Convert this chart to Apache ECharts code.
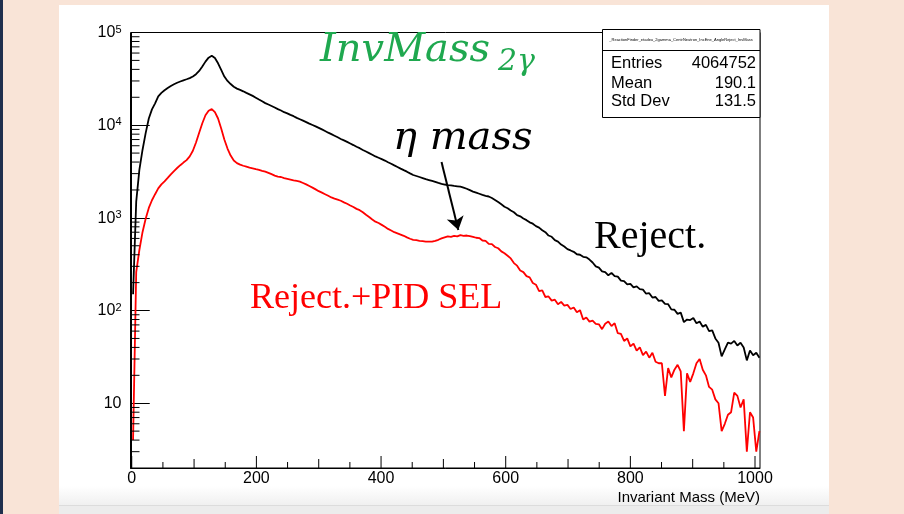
<!DOCTYPE html>
<html><head><meta charset="utf-8">
<script src="https://cdn.jsdelivr.net/npm/echarts@6/dist/echarts.min.js"></script>
<style>html,body{margin:0;padding:0;background:#F9E4D7;}#c{width:904px;height:514px;}</style>
</head><body><div id="c"></div>
<script>
// ---- data (200 bins of 5.05 MeV starting at -0.4 MeV; values drawn at bin centres) ----
const binWidth = 5.05;
const firstBinLow = -0.4;
const xMin = -2, xMax = 1008;
const rejectCounts = [
 150,1500,3300,5400,8200,11800,14800,17200,20500,22300,
 23800,25200,26500,27600,28700,29600,30500,31300,32200,33500,
 35500,38500,43000,48500,53500,56000,53000,46500,39500,33500,
 30000,27800,26000,24800,24000,23200,22300,21500,20700,19800,
 18900,18100,17300,16700,16100,15500,14900,14400,13800,13400,
 12900,12500,12000,11600,11200,10800,10400,10050,9700,9350,
 9000,8650,8300,8000,7700,7400,7100,6850,6600,6350,
 6100,5850,5650,5400,5200,5000,4800,4600,4450,4300,
 4150,3980,3830,3680,3540,3400,3270,3150,3020,2900,
 2830,2760,2690,2620,2560,2500,2440,2380,2330,2290,
 2260,2240,2210,2190,2170,2120,2060,1990,1920,1870,
 1820,1770,1730,1700,1640,1560,1480,1400,1320,1270,
 1200,1150,1070,1040,985,945,895,865,815,785,
 735,700,645,625,575,555,515,490,460,445,
 430,405,400,380,375,355,330,300,290,265,
 260,240,255,235,232,210,208,192,194,178,
 182,170,168,152,154,138,140,127,129,118,
 117,103,102,92,95,75,80,79,83,73,
 76,67,70,60,61,50,45,32,38,45,
 44,47,42,45,40,29,37,33,35,31
];
const pidSelCounts = [
 4,260,450,700,980,1280,1550,1800,2080,2300,
 2480,2700,2950,3200,3450,3700,3950,4200,4600,5300,
 6500,8300,10500,12800,14300,14900,13800,11800,9200,7000,
 5600,4700,4150,3900,3750,3650,3570,3480,3420,3350,
 3300,3220,3150,3060,2960,2860,2780,2760,2690,2640,
 2590,2540,2500,2460,2380,2300,2210,2120,2030,1940,
 1870,1800,1730,1660,1610,1570,1530,1470,1420,1360,
 1310,1250,1210,1150,1080,1020,960,910,880,840,
 800,760,730,700,680,660,640,615,595,580,
 575,565,560,555,553,555,565,580,600,615,
 630,625,640,630,650,640,645,635,625,610,
 605,570,565,525,520,485,470,435,415,390,
 365,325,305,270,260,235,228,198,190,162,
 165,140,142,128,131,117,124,113,115,104,
 108,96,101,80,84,76,78,72,71,63,
 72,76,68,73,57,56,47,50,41,44,
 37,40,33,36,31,35,28,27,27,12,
 24,19,23,26,22,5,21,17,21,27,
 30,23,20,15,14,11,10,5,6,7.5,
 8,13,12,9,11,3,8,7,3,5
];
const xLabelStep = 200;
const xMajorTicks = [0, 200, 400, 600, 800, 1000];
const xMediumTicks = [100, 300, 500, 700, 900];
const xMinorTicks = [50, 150, 250, 350, 450, 550, 650, 750, 850, 950];
const yMin = 2, yMax = 100000;
const yMinorTicks = [3,4,5,6,7,8,9,20,30,40,50,60,70,80,90,200,300,400,500,600,700,800,900,
  2000,3000,4000,5000,6000,7000,8000,9000,20000,30000,40000,50000,60000,70000,80000,90000];
const statsTitle = '_ReactionFinder_etadeu_2gamma_CentrNeutron_IncEne_AngleReject_InvMass';
const statsLabels = ['Entries', 'Mean', 'Std Dev'];
const statsValues = ['4064752', '190.1', '131.5'];
const etaArrow = [[497, 4000], [524, 740]];

// ---- build ----
function histData(vals) {
  return vals.map((v, i) => [firstBinLow + (i + 0.5) * binWidth, v]);
}
function xTickSeries(ticks, len) {
  return {
    type: 'custom', coordinateSystem: 'cartesian2d', silent: true, z: 5, clip: false,
    data: ticks.map(v => [v, yMin]),
    renderItem: function (params, api) {
      const p = api.coord([api.value(0), yMin]);
      return {type: 'line', shape: {x1: p[0], y1: p[1], x2: p[0], y2: p[1] - len}, style: {stroke: '#000', lineWidth: 1}};
    }
  };
}
const chart = echarts.init(document.getElementById('c'), null, {renderer: 'canvas'});
const sansFont = 'Liberation Sans, Arial, Helvetica, sans-serif';
const statRowsY = [63, 83, 101];
const statsGraphics = [
  {type: 'rect', z: 50, shape: {x: 602.5, y: 29.5, width: 157.5, height: 88}, style: {fill: '#fff', stroke: '#000', lineWidth: 1}},
  {type: 'line', z: 51, shape: {x1: 602.5, y1: 50.5, x2: 760, y2: 50.5}, style: {stroke: '#000', lineWidth: 1}},
  {type: 'text', z: 52, x: 681, y: 40, style: {text: statsTitle, font: '4px ' + sansFont, fill: '#000', align: 'center', verticalAlign: 'middle'}}
];
statsLabels.forEach((l, i) => {
  statsGraphics.push({type: 'text', z: 52, x: 611, y: statRowsY[i], style: {text: l, font: '16.5px ' + sansFont, fill: '#000', align: 'left', verticalAlign: 'middle'}});
  statsGraphics.push({type: 'text', z: 52, x: 756, y: statRowsY[i], style: {text: statsValues[i], font: '16.5px ' + sansFont, fill: '#000', align: 'right', verticalAlign: 'middle'}});
});

const option = {
  animation: false,
  backgroundColor: '#F9E4D7',
  grid: {left: 130.5, right: 144, top: 32.5, bottom: 46, show: true, borderColor: '#000', borderWidth: 1, backgroundColor: '#fff'},
  xAxis: {
    type: 'value', min: xMin, max: xMax, splitNumber: 5,
    axisLine: {lineStyle: {color: '#000', width: 1}},
    axisTick: {show: false}, minorTick: {show: false},
    splitLine: {show: false},
    axisLabel: {color: '#000', fontSize: 16, fontFamily: sansFont, margin: 3, showMinLabel: false, showMaxLabel: false,
      formatter: v => (Math.abs(v % xLabelStep) < 1e-6 ? String(v) : '')},
    name: 'Invariant Mass (MeV)', nameLocation: 'end', nameGap: 0,
    nameTextStyle: {align: 'right', verticalAlign: 'top', padding: [22, 0, 0, 0], fontSize: 15, color: '#000', fontFamily: sansFont}
  },
  yAxis: {
    type: 'log', logBase: 10, min: yMin, max: yMax,
    axisLine: {lineStyle: {color: '#000', width: 1}},
    axisTick: {inside: true, length: 18, lineStyle: {color: '#000'}},
    splitLine: {show: false},
    axisLabel: {
      color: '#000', fontSize: 16, fontFamily: sansFont, margin: 9,
      formatter: function (v) {
        const e = Math.round(Math.log10(v));
        if (Math.abs(v - Math.pow(10, e)) > 1e-6 * v) return '';
        if (e === 1) return '{b|10}';
        return '{b|10}{s|' + e + '}';
      },
      rich: {
        b: {fontSize: 16, fontFamily: sansFont, color: '#000', verticalAlign: 'bottom'},
        s: {fontSize: 11, fontFamily: sansFont, color: '#000', verticalAlign: 'bottom', padding: [0, 0, 6, 0]}
      }
    }
  },
  series: [
    {
      type: 'custom', coordinateSystem: 'cartesian2d', silent: true, z: 5,
      data: yMinorTicks.map(v => [0, v]),
      renderItem: function (params, api) {
        const p = api.coord([xMin, api.value(1)]);
        return {type: 'line', shape: {x1: p[0], y1: p[1], x2: p[0] + 9, y2: p[1]}, style: {stroke: '#000', lineWidth: 1}};
      }
    },
    xTickSeries(xMajorTicks, 12),
    xTickSeries(xMediumTicks, 9),
    xTickSeries(xMinorTicks, 6),
    {
      name: 'Reject.', type: 'line', showSymbol: false, symbol: 'none', z: 3,
      data: histData(rejectCounts), lineStyle: {color: '#000', width: 1.8}, itemStyle: {color: '#000'}
    },
    {
      name: 'Reject.+PID SEL', type: 'line', showSymbol: false, symbol: 'none', z: 4,
      data: histData(pidSelCounts), lineStyle: {color: '#FF0000', width: 1.8}, itemStyle: {color: '#FF0000'},
      markLine: {
        silent: true, symbol: ['none', 'arrow'], symbolSize: 13, animation: false,
        lineStyle: {color: '#000', width: 2, type: 'solid'}, label: {show: false},
        data: [[{coord: etaArrow[0]}, {coord: etaArrow[1]}]]
      }
    }
  ],
  graphic: {elements: [
    {type: 'rect', z: -10, shape: {x: 0, y: 0, width: 3, height: 514}, style: {fill: '#1F2F4D'}},
    {type: 'rect', z: -10, shape: {x: 59, y: 5, width: 770, height: 500}, style: {fill: '#fff'}},
    {type: 'rect', z: -9, shape: {x: 59, y: 486, width: 770, height: 19},
      style: {fill: new echarts.graphic.LinearGradient(0, 0, 0, 1, [{offset: 0, color: '#ffffff'}, {offset: 1, color: '#F0F0F0'}])}},
    {type: 'rect', z: -9, shape: {x: 59, y: 505, width: 770, height: 9}, style: {fill: '#ECECEC'}},
    {type: 'line', z: -9, shape: {x1: 59, y1: 505.5, x2: 829, y2: 505.5}, style: {stroke: '#DCDCDC', lineWidth: 1}},
    ...statsGraphics,
    {type: 'text', z: 60, x: 320, y: 51, style: {text: 'InvMass', font: 'italic 40px DejaVu Serif, serif', fill: '#1FA84F', align: 'left', verticalAlign: 'middle'}},
    {type: 'text', z: 60, x: 498, y: 62, style: {text: '2γ', font: 'italic 30px DejaVu Serif, serif', fill: '#1FA84F', align: 'left', verticalAlign: 'middle'}},
    {type: 'text', z: 60, x: 393, y: 139, style: {text: 'η mass', font: 'italic 40px DejaVu Serif, serif', fill: '#000', align: 'left', verticalAlign: 'middle'}},
    {type: 'text', z: 60, x: 594, y: 237, style: {text: 'Reject.', font: '40px Liberation Serif, serif', fill: '#000', align: 'left', verticalAlign: 'middle'}},
    {type: 'text', z: 60, x: 250, y: 299, style: {text: 'Reject.+PID SEL', font: '36px Liberation Serif, serif', fill: '#FF0000', align: 'left', verticalAlign: 'middle'}}
  ]}
};
chart.setOption(option);
</script>
</body></html>
